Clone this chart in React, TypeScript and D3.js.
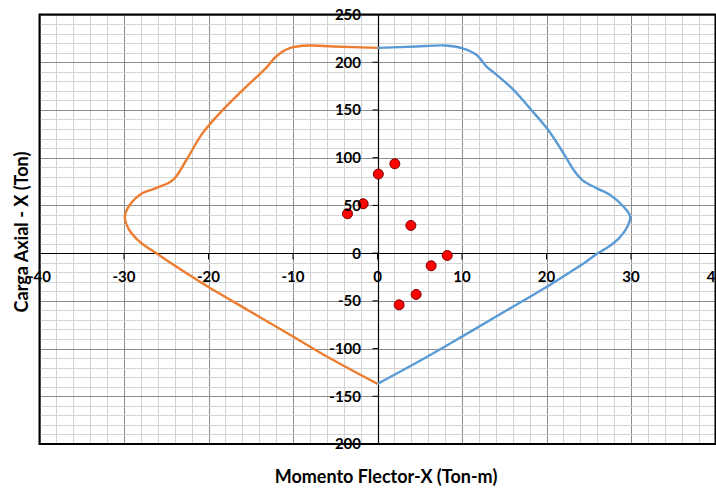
import React from "react";
import * as d3 from "d3";

const blueM = [0, 4.6, 8.0, 10.0, 11.7, 12.9, 14.1, 16.1, 18.2, 20.2, 22.0, 23.2, 24.2, 25.9, 27.5, 29.1, 29.9, 29.5, 28.6, 27.4, 26.1, 24.6, 22.6, 20.3, 15.1, 10.1, 5.3, 0];
const blueP = [215, 216.5, 217.5, 214.8, 207.8, 195.5, 186.8, 171, 150, 129, 104.8, 87.3, 76.8, 68.1, 61.1, 48.8, 38.3, 26.5, 15.7, 6.9, 0, -9.5, -21, -34, -61, -87, -111.5, -137];

const orangeM = [0, -5.3, -8.0, -10.4, -12.0, -13.2, -15.5, -18.3, -20.7, -22.6, -24.2, -26.2, -27.8, -29.3, -29.9, -29.5, -28.6, -27.4, -26.2, -24.6, -22.6, -20.3, -15.1, -10.0, -5.3, 0];
const orangeP = [215, 216.5, 217.5, 214.8, 206, 193.8, 174.6, 150, 125.7, 97.8, 76.8, 68.1, 62.9, 50.6, 38.3, 26.2, 15.7, 6.9, 0, -9.5, -21, -34, -61, -87.4, -111.8, -137];

const loadM = [-3.55, -1.7, 0.1, 2.05, 3.95, 8.25, 6.35, 4.57, 2.56];
const loadP = [41.2, 51.7, 82.8, 93.6, 29, -2.5, -13.3, -43.3, -54.2];

const xTicks = [-40, -30, -20, -10, 0, 10, 20, 30, 40];
const yTicks = [250, 200, 150, 100, 50, 0, -50, -100, -150, -200];

const xTitle = "Momento Flector-X (Ton-m)";
const yTitle = "Carga Axial - X (Ton)";

export default function App() {
  const W = 716, H = 490;
  const left = 39.5, right = 715.5, top = 14.5, bottom = 444;
  const x = d3.scaleLinear().domain([-40, 40]).range([left, right]);
  const y = d3.scaleLinear().domain([-200, 250]).range([bottom, top]);

  const minorX = d3.range(-40, 40.001, 2);
  const minorY = d3.range(-200, 250.001, 10);

  const line = d3
    .line<[number, number]>()
    .x((d) => x(d[0]))
    .y((d) => y(d[1]))
    .curve(d3.curveCatmullRom.alpha(0.5));

  const blue = blueM.map((m, i) => [m, blueP[i]] as [number, number]);
  const orange = orangeM.map((m, i) => [m, orangeP[i]] as [number, number]);

  const font = "Lato, 'Open Sans', sans-serif";
  const x0 = Math.round(x(0)) + 0.5;
  const y0 = Math.round(y(0)) + 0.5;

  return (
    <svg
      width={W}
      height={H}
      style={{ position: "absolute", left: 0, top: 0, background: "#fff" }}
      fontFamily={font}
    >
      {minorX.map((v) => (
        <line key={"mx" + v} x1={Math.round(x(v)) + 0.5} x2={Math.round(x(v)) + 0.5} y1={top} y2={bottom}
          stroke={v % 10 === 0 ? "#8c8c8c" : "#d4d4d4"} strokeWidth={1} />
      ))}
      {minorY.map((v) => (
        <line key={"my" + v} y1={Math.round(y(v)) + 0.5} y2={Math.round(y(v)) + 0.5} x1={left} x2={right}
          stroke={v % 50 === 0 ? "#8c8c8c" : "#d4d4d4"} strokeWidth={1} />
      ))}
      <line x1={left} x2={right} y1={y0} y2={y0} stroke="#000" strokeWidth={1.2} />
      <line x1={x0} x2={x0} y1={top} y2={bottom} stroke="#000" strokeWidth={1.2} />
      {xTicks.map((v) => (
        <line key={"xt" + v} x1={x(v)} x2={x(v)} y1={y0} y2={y0 + 6} stroke="#000" strokeWidth={1} />
      ))}
      {yTicks.map((v) => (
        <line key={"yt" + v} x1={x0 - 6} x2={x0} y1={y(v)} y2={y(v)} stroke="#000" strokeWidth={1} />
      ))}
      <rect x={left} y={top} width={right - left} height={bottom - top} fill="none" stroke="#000" strokeWidth={2} />
      <path d={line(blue) || ""} fill="none" stroke="#5B9BD5" strokeWidth={2.4} strokeLinejoin="round" />
      <path d={line(orange) || ""} fill="none" stroke="#ED7D31" strokeWidth={2.4} strokeLinejoin="round" />
      {loadM.map((m, i) => (
        <circle key={"p" + i} cx={x(m)} cy={y(loadP[i])} r={5} fill="#FF0000" stroke="#7a0000" strokeWidth={1} />
      ))}
      {xTicks.map((v) => (
        <text key={"xl" + v} x={x(v)} y={y0 + 28} textAnchor="middle" fontSize={15} fontWeight="bold" fill="#000">
          {v}
        </text>
      ))}
      {yTicks.map((v) => (
        <text key={"yl" + v} x={361} y={y(v)} dy="0.36em" textAnchor="end" fontSize={15} fontWeight="bold" fill="#000">
          {v}
        </text>
      ))}
      <text x={386} y={483} textAnchor="middle" fontSize={18} fontWeight="bold" fill="#000">
        {xTitle}
      </text>
      <text transform={`translate(28,232) rotate(-90)`} textAnchor="middle" fontSize={18} fontWeight="bold" fill="#000">
        {yTitle}
      </text>
    </svg>
  );
}
